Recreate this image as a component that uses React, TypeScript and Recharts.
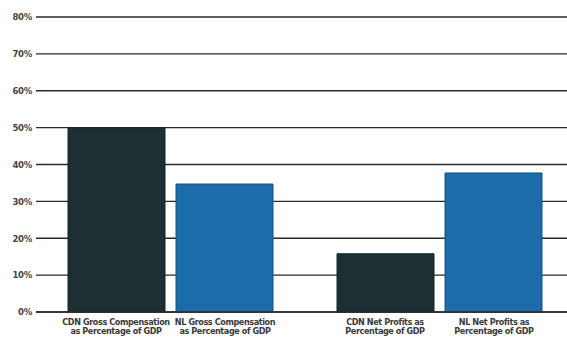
import { BarChart, Bar, XAxis, YAxis, CartesianGrid } from 'recharts';

// two groups, each with a CDN and an NL bar
const groups = ['Gross Compensation', 'Net Profits'];
const cdnValues = [50, 15.8];
const nlValues = [34.7, 37.7];
const cdnLabels = [
  ['CDN Gross Compensation', 'as Percentage of GDP'],
  ['CDN Net Profits as', 'Percentage of GDP'],
];
const nlLabels = [
  ['NL Gross Compensation', 'as Percentage of GDP'],
  ['NL Net Profits as', 'Percentage of GDP'],
];
const yTicks = [0, 10, 20, 30, 40, 50, 60, 70, 80];

const data = groups.map((g, i) => ({
  group: g,
  cdn: cdnValues[i],
  nl: nlValues[i],
}));

const FONT = '"DejaVu Sans Condensed", "Liberation Sans Narrow", Arial, sans-serif';
const DARK = '#1c2f33';
const BLUE = '#1b6ca9';

function GroupTick({ x, y, index }: { x?: number; y?: number; index?: number }) {
  const i = index ?? 0;
  const offset = 54.5;
  const renderLabel = (lines: string[], cx: number) => (
    <text
      x={cx}
      y={y ?? 0}
      textAnchor="middle"
      style={{ fontFamily: FONT, fontSize: 9, fontWeight: 700, fill: '#3a3a3a', letterSpacing: -0.4 }}
    >
      {lines.map((l, k) => (
        <tspan key={k} x={cx} dy={k === 0 ? 5 : 9}>
          {l}
        </tspan>
      ))}
    </text>
  );
  return (
    <g>
      {renderLabel(cdnLabels[i], (x ?? 0) - offset)}
      {renderLabel(nlLabels[i], (x ?? 0) + offset)}
    </g>
  );
}

export default function App() {
  return (
    <div
      style={{
        position: 'fixed',
        left: 0,
        top: 0,
        width: 567,
        height: 338,
        overflow: 'hidden',
        background: '#fff',
      }}
    >
      <BarChart
        width={610}
        height={338}
        data={data}
        margin={{ top: 17, right: 36, bottom: 0, left: 0 }}
        barCategoryGap={32}
        barGap={11}
      >
        <CartesianGrid vertical={false} stroke="#2a2a2a" strokeWidth={1.3} />
        <YAxis
          domain={[0, 80]}
          ticks={yTicks}
          tickFormatter={(v) => `${v}%`}
          width={36}
          axisLine={false}
          tickLine={false}
          tick={{ fontFamily: FONT, fontSize: 9.5, fontWeight: 700, fill: '#444', letterSpacing: -0.3 }}
          tickMargin={-2}
        />
        <XAxis
          dataKey="group"
          height={26}
          interval={0}
          axisLine={{ stroke: '#2a2a2a', strokeWidth: 1.6 }}
          tickLine={false}
          tick={<GroupTick />}
        />
        <Bar dataKey="cdn" fill={DARK} stroke="#15252a" strokeWidth={1} isAnimationActive={false} />
        <Bar dataKey="nl" fill={BLUE} stroke="#1a4f78" strokeWidth={1} isAnimationActive={false} />
      </BarChart>
    </div>
  );
}
